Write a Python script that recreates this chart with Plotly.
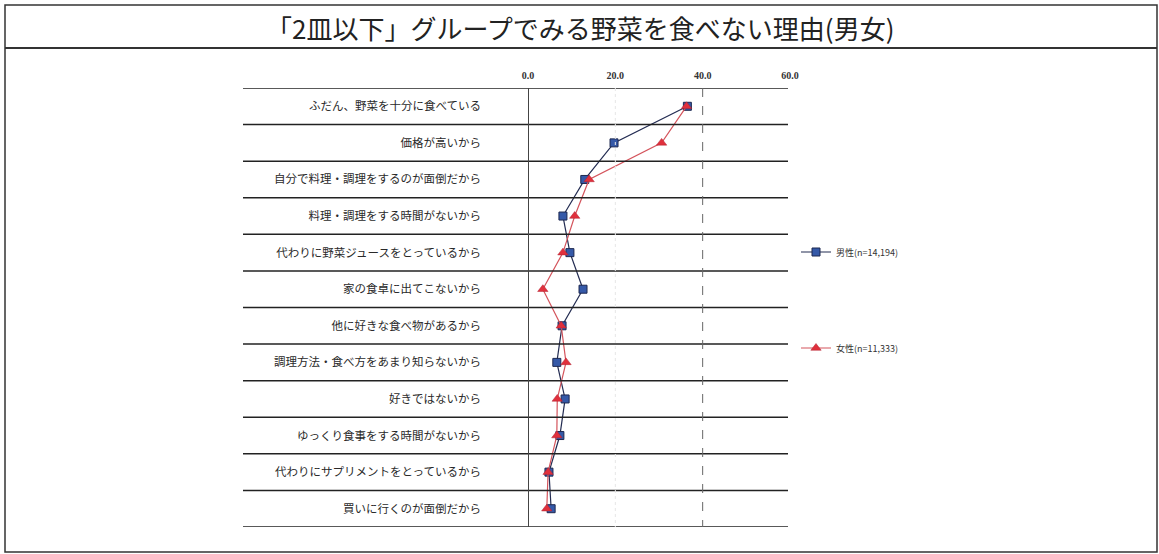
import plotly.graph_objects as go

categories = [
    "ふだん、野菜を十分に食べている",
    "価格が高いから",
    "自分で料理・調理をするのが面倒だから",
    "料理・調理をする時間がないから",
    "代わりに野菜ジュースをとっているから",
    "家の食卓に出てこないから",
    "他に好きな食べ物があるから",
    "調理方法・食べ方をあまり知らないから",
    "好きではないから",
    "ゆっくり食事をする時間がないから",
    "代わりにサプリメントをとっているから",
    "買いに行くのが面倒だから",
]
male = [36.5, 19.7, 13.0, 8.0, 9.6, 12.6, 7.8, 6.6, 8.5, 7.3, 4.8, 5.3]
female = [36.3, 30.6, 14.0, 10.7, 8.0, 3.4, 7.6, 8.7, 6.7, 6.6, 4.6, 4.3]
male_name = "男性(n=14,194)"
female_name = "女性(n=11,333)"
x_ticks = [0, 20, 40, 60]
x_ticktext = ["0.0", "20.0", "40.0", "60.0"]
title = "「2皿以下」グループでみる野菜を食べない理由(男女)"

W, H = 1159, 554
L, R, T, B = 528, 369, 88, 27
PW, PH = W - L - R, H - T - B


def px(xp):
    return (xp - L) / PW


def py(yp):
    return (H - B - yp) / PH


JP = "Noto Sans CJK JP"

fig = go.Figure()
fig.add_trace(go.Scatter(
    x=male, y=categories, mode="lines+markers", name=male_name,
    line=dict(color="#232c52", width=1.2),
    marker=dict(symbol="square", size=8, color="#3559a8",
                line=dict(color="#1d2850", width=1)),
    legend="legend",
))
fig.add_trace(go.Scatter(
    x=female, y=categories, mode="lines+markers", name=female_name,
    line=dict(color="#d4545c", width=1.2),
    marker=dict(symbol="triangle-up", size=9, color="#e0303c",
                line=dict(color="#b02030", width=0.5)),
    legend="legend2",
))

n = len(categories)
shapes = []
for i in range(n + 1):
    shapes.append(dict(type="line", xref="paper", yref="y",
                       x0=px(243), x1=px(788), y0=i - 0.5, y1=i - 0.5,
                       line=dict(color="#222", width=1.5)))
shapes.append(dict(type="line", xref="x", yref="y", x0=0, x1=0,
                   y0=-0.5, y1=n - 0.5, line=dict(color="#444", width=2)))
shapes.append(dict(type="line", xref="x", yref="y", x0=40, x1=40,
                   y0=-0.5, y1=n - 0.5, line=dict(color="#666", width=1, dash="dash")))
shapes.append(dict(type="line", xref="x", yref="y", x0=20, x1=20,
                   y0=-0.5, y1=n - 0.5, line=dict(color="#e6e6e6", width=1, dash="dot")))
shapes.append(dict(type="rect", xref="paper", yref="paper",
                   x0=px(5), x1=px(1157), y0=py(552), y1=py(5),
                   line=dict(color="#333", width=1.5)))
shapes.append(dict(type="line", xref="paper", yref="paper",
                   x0=px(5), x1=px(1157), y0=py(48), y1=py(48),
                   line=dict(color="#333", width=2)))

fig.update_layout(
    width=W, height=H,
    margin=dict(l=L, r=R, t=T, b=B),
    paper_bgcolor="white", plot_bgcolor="white",
    shapes=shapes,
    showlegend=True,
    legend=dict(x=px(796), y=py(252), xanchor="left", yanchor="middle",
                font=dict(family=JP, size=9, color="#333"),
                bgcolor="rgba(0,0,0,0)"),
    legend2=dict(x=px(796), y=py(348), xanchor="left", yanchor="middle",
                 font=dict(family=JP, size=9, color="#333"),
                 bgcolor="rgba(0,0,0,0)"),
    annotations=[dict(text=title, x=px(580), y=py(27), xref="paper", yref="paper",
                      showarrow=False, xanchor="center", yanchor="middle",
                      font=dict(family=JP, size=26, color="#222"))],
    xaxis=dict(range=[0, 60], side="top", tickvals=x_ticks, ticktext=x_ticktext,
               showgrid=False, zeroline=False, showline=False, ticks="",
               ticklabelstandoff=6,
               tickfont=dict(family="Liberation Sans Narrow", size=10, color="#333",
                             weight="bold")),
    yaxis=dict(type="category", categoryorder="array", categoryarray=categories,
               range=[n - 0.5, -0.5], showgrid=False, zeroline=False,
               showline=False, ticks="", ticklabelstandoff=46,
               tickfont=dict(family=JP, size=11.5, color="#2a2a2a")),
)

fig.write_html("out.html")
